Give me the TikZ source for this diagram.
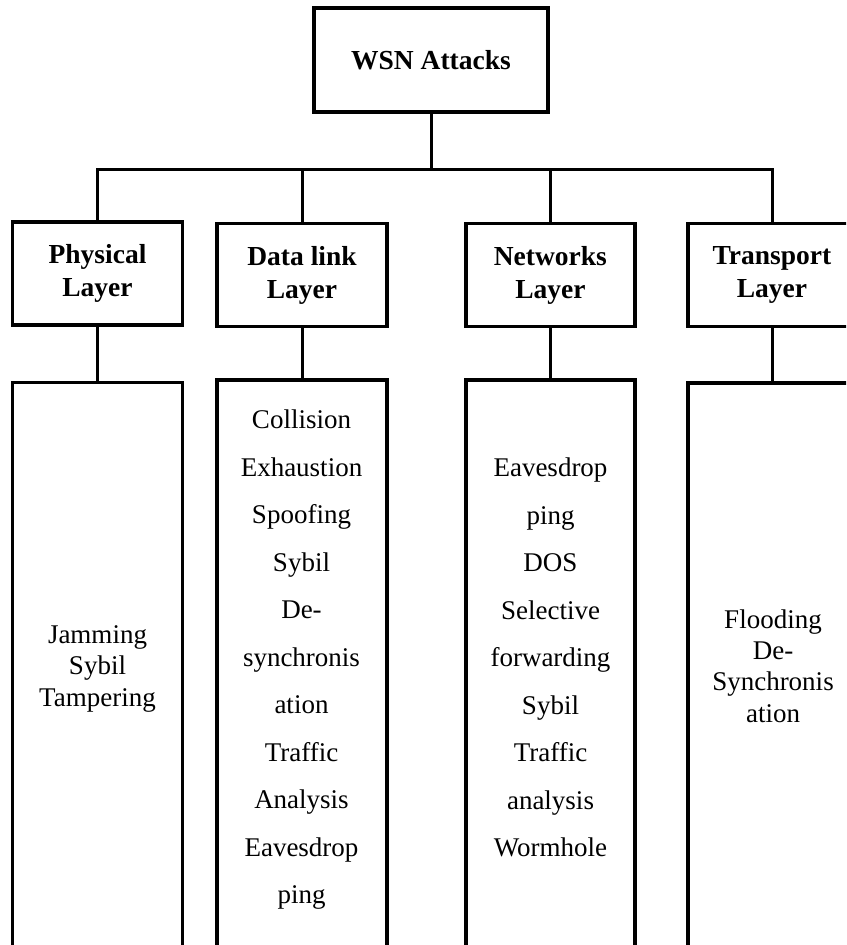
\documentclass[tikz,border=0pt]{standalone}
\usepackage{fontspec}
\setmainfont{Liberation Serif}
\begin{document}
\begin{tikzpicture}[x=1pt,y=-1pt,
  box/.style={draw, line width=3.2pt, inner sep=0pt, minimum width=170pt},
  head/.style={font=\bfseries\fontsize{27.5}{33}\selectfont, align=center},
  column/.style={box, minimum height=620pt},
  attlist/.style={align=center, inner sep=0pt, anchor=north},
  wire/.style={line width=3pt}]
\useasboundingbox (0,0) rectangle (846,945);
\clip (0,0) rectangle (846,945);

% root of the taxonomy
\node[box, head, minimum width=234pt, minimum height=104pt] (root) at (431,60) {WSN Attacks};

% protocol layers
\node[box, head, minimum height=103pt] (phy) at (97.5,273.4) {Physical\\Layer};
\node[box, head, minimum height=103pt] (dll) at (302,275.2) {Data link\\Layer};
\node[box, head, minimum height=103pt, minimum width=169pt] (net) at (550.4,275.2) {Networks\\Layer};
\node[box, head, minimum height=103pt, minimum width=168pt] (tra) at (772,275.2) {Transport\\Layer};

% attack columns (run past the lower edge)
\node[column] (phycol) at (97.5,692.7) {};
\node[column] (dllcol) at (302,690) {};
\node[column, minimum width=169pt] (netcol) at (550.4,690) {};
\node[column, minimum width=168pt] (tracol) at (772,693) {};

% attack lists
\node[attlist, font=\fontsize{27}{31.7}\selectfont] (phytext) at (97.5,620.8)
  {\strut Jamming\\Sybil\\Tampering};
\node[attlist, font=\fontsize{27}{47.5}\selectfont] (dlltext) at (301.5,395.4)
  {\strut Collision\\Exhaustion\\Spoofing\\Sybil\\De-\\synchronis\\ation\\Traffic\\Analysis\\Eavesdrop\\ping};
\node[attlist, font=\fontsize{27}{47.5}\selectfont] (nettext) at (550.5,443.4)
  {\strut Eavesdrop\\ping\\DOS\\Selective\\forwarding\\Sybil\\Traffic\\analysis\\Wormhole};
\node[attlist, font=\fontsize{27}{31.3}\selectfont] (tratext) at (773,606.1)
  {\strut Flooding\\De-\\Synchronis\\ation};

% tree connectors
\coordinate (bus) at (431,169);
\draw[wire] (root.south) -- (bus);
\draw[wire] (phy.north) |- (bus) -| (tra.north);
\draw[wire] (dll.north) -- (dll.north |- bus);
\draw[wire] (net.north) -- (net.north |- bus);
\draw[wire] (phy.south) -- (phycol.north);
\draw[wire] (dll.south) -- (dllcol.north);
\draw[wire] (net.south) -- (netcol.north);
\draw[wire] (tra.south) -- (tracol.north);
\end{tikzpicture}
\end{document}
